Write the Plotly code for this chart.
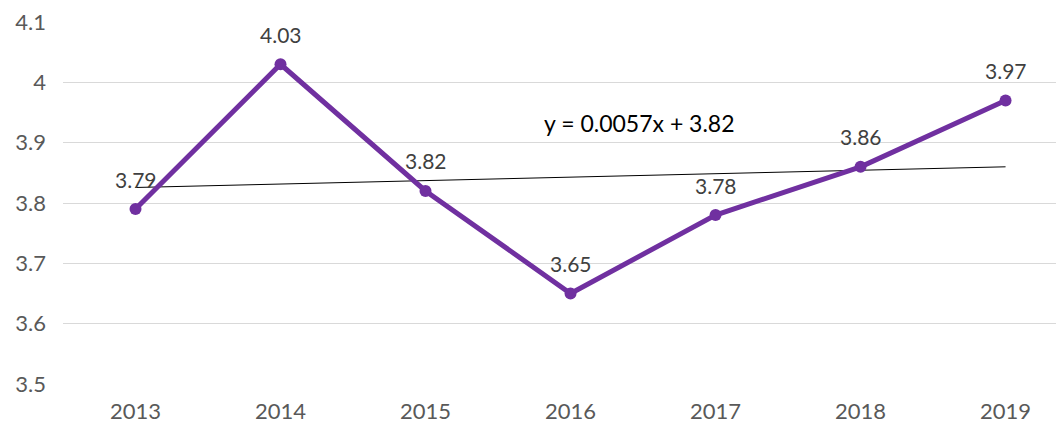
import numpy as np
import plotly.graph_objects as go

years = [2013, 2014, 2015, 2016, 2017, 2018, 2019]
values = [3.79, 4.03, 3.82, 3.65, 3.78, 3.86, 3.97]
y_ticks = [3.5, 3.6, 3.7, 3.8, 3.9, 4.0, 4.1]
y_tick_labels = ["3.5", "3.6", "3.7", "3.8", "3.9", "4", "4.1"]

idx = np.arange(1, len(values) + 1)
slope, intercept = np.polyfit(idx, values, 1)
trend = slope * idx + intercept
eq_text = f"y = {slope:.4f}x + {intercept:.2f}"

FONT = "Lato"
PURPLE = "#7030A0"

fig = go.Figure()
fig.add_trace(go.Scatter(
    x=years, y=trend.tolist(), mode="lines",
    line=dict(color="#000000", width=1), hoverinfo="skip", showlegend=False))
fig.add_trace(go.Scatter(
    x=years, y=values, mode="lines+markers",
    line=dict(color=PURPLE, width=5),
    marker=dict(color=PURPLE, size=12), showlegend=False))

for x, v in zip(years, values):
    fig.add_annotation(x=x, y=v, text=f"{v:.2f}", showarrow=False,
                       yshift=30, font=dict(family=FONT, size=21, color="#404040"))

fig.add_annotation(x=2016.476, y=3.9326, text=eq_text, showarrow=False,
                   font=dict(family=FONT, size=23, color="#000000"))

# page body has an 8px margin, so the figure is sized/margined to land the
# plot area at the reference's pixel positions
fig.update_layout(
    width=1056, height=416,
    margin=dict(l=55, r=0, t=14, b=40),
    paper_bgcolor="white", plot_bgcolor="white",
    font=dict(family=FONT, size=22, color="#595959"),
    xaxis=dict(range=[2012.5, 2019.403], tickvals=years,
               ticktext=[str(y) for y in years], showgrid=False,
               zeroline=False, showline=False, ticklabelstandoff=12,
               automargin=False, ticklabeloverflow="allow", fixedrange=True),
    yaxis=dict(range=[3.4999, 4.1001], tickvals=y_ticks, ticktext=y_tick_labels,
               showgrid=True, gridcolor="#d9d9d9", gridwidth=1.3,
               zeroline=False, showline=False, ticklabelstandoff=16,
               automargin=False, ticklabeloverflow="allow", fixedrange=True),
)

fig.write_html("out.html")
